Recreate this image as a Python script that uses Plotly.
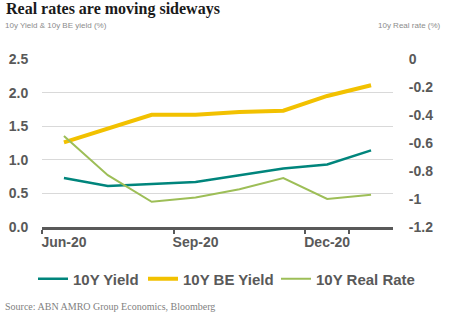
import plotly.graph_objects as go

months = ["Jun-20", "Jul-20", "Aug-20", "Sep-20", "Oct-20", "Nov-20", "Dec-20", "Jan-21"]
tick_months = ["Jun-20", "Sep-20", "Dec-20"]
yield_10y = [0.73, 0.61, 0.64, 0.67, 0.77, 0.87, 0.93, 1.14]
be_yield_10y = [1.26, 1.46, 1.67, 1.67, 1.71, 1.73, 1.95, 2.11]
real_rate_10y = [-0.55, -0.83, -1.02, -0.99, -0.93, -0.85, -1.00, -0.97]
right_ticks = [0, -0.2, -0.4, -0.6, -0.8, -1.0, -1.2]
right_ticktext = ["0", "-0.2", "-0.4", "-0.6", "-0.8", "-1", "-1.2"]

TEAL = "#00857C"
YELLOW = "#F2C100"
GREEN = "#9DBE57"
GRAY = "#595959"

L, R, T, B, W, H = 42, 72, 59, 96, 465, 323
PW, PH = W - L - R, H - T - B

fig = go.Figure()
fig.add_trace(go.Scatter(x=months, y=yield_10y, name="10Y Yield", mode="lines",
                         line=dict(color=TEAL, width=2.5), legend="legend"))
fig.add_trace(go.Scatter(x=months, y=be_yield_10y, name="10Y BE Yield", mode="lines",
                         line=dict(color=YELLOW, width=4), legend="legend2"))
fig.add_trace(go.Scatter(x=months, y=real_rate_10y, name="10Y Real Rate", mode="lines",
                         line=dict(color=GREEN, width=2), yaxis="y2", legend="legend3"))

tickfont = dict(family="Liberation Sans, Arial", size=14, color=GRAY, weight="bold")
legfont = dict(family="Liberation Sans, Arial", size=15, color=GRAY, weight="bold")


def leg(px):
    return dict(orientation="h", xref="container", x=px / W, xanchor="left",
                y=-(279 - (T + PH)) / PH, yanchor="middle", font=legfont,
                itemwidth=30, borderwidth=0, bgcolor="rgba(0,0,0,0)")


fig.update_layout(
    width=W, height=H,
    margin=dict(l=L, r=R, t=T, b=B, autoexpand=False),
    paper_bgcolor="white", plot_bgcolor="white",
    showlegend=True,
    legend=leg(33),
    legend2=leg(143),
    legend3=leg(276),
    xaxis=dict(type="category", range=[-0.5, 7.5], tickvals=tick_months, ticktext=tick_months,
               tickson="boundaries", ticks="outside", ticklen=4, tickwidth=1.5, tickcolor=GRAY,
               tickangle=0, showline=True, linewidth=3, linecolor=GRAY, showgrid=False,
               tickfont=tickfont),
    yaxis=dict(range=[0, 2.5], dtick=0.5, tickformat=".1f", showgrid=True,
               gridcolor="#D9D9D9", gridwidth=1, zeroline=False, showline=False,
               tickfont=tickfont, ticks="outside", ticklen=10, tickcolor="rgba(0,0,0,0)"),
    yaxis2=dict(range=[-1.2, 0], tickvals=right_ticks, ticktext=right_ticktext,
                overlaying="y", side="right", showgrid=False, zeroline=False, showline=False,
                tickfont=tickfont, ticks="outside", ticklen=12, tickcolor="rgba(0,0,0,0)"),
)

fig.add_annotation(text="<b>Real rates are moving sideways</b>", xref="paper", yref="paper",
                   x=-38/PW, y=1 + 50/PH, xanchor="left", yanchor="middle", showarrow=False,
                   font=dict(family="Liberation Serif, Times New Roman", size=16, color="#1a1a1a"))
fig.add_annotation(text="10y Yield & 10y BE yield (%)", xref="paper", yref="paper",
                   x=-39/PW, y=1 + 34/PH, xanchor="left", yanchor="middle", showarrow=False,
                   font=dict(family="Liberation Sans, Arial", size=8, color="#8c8c8c"))
fig.add_annotation(text="10y Real rate (%)", xref="paper", yref="paper",
                   x=1 + 50/PW, y=1 + 34/PH, xanchor="right", yanchor="middle", showarrow=False,
                   font=dict(family="Liberation Sans, Arial", size=8, color="#8c8c8c"))
fig.add_annotation(text="Source: ABN AMRO Group Economics, Bloomberg", xref="paper", yref="paper",
                   x=-39/PW, y=-(306 - (T + PH))/PH, xanchor="left", yanchor="middle", showarrow=False,
                   font=dict(family="Liberation Serif, Times New Roman", size=10, color="#7f7f7f"))

fig.write_html("out.html")
